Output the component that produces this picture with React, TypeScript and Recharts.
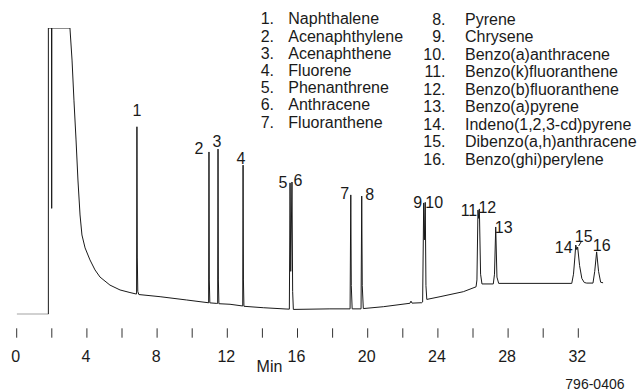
import React from "react";
import { ComposedChart, Line, Scatter, XAxis, YAxis } from "recharts";

// retention time (min) and detector response (% of full scale)
const traceTime = [
  0, 1.804, 1.804, 1.983, 1.993, 2.003, 3.034, 3.153, 3.262, 3.381, 3.49, 3.609, 3.718, 3.896, 4.174, 4.462, 4.749, 5.314, 5.889, 6.454, 6.801,
  6.831, 6.851, 6.871, 6.9, 6.96, 8.17, 9.686, 10.906,
  10.936, 10.956, 10.975, 11.005, 11.402, 11.451, 11.471, 11.491, 11.521, 12.155,
  12.879, 12.899, 12.919, 12.948, 14.049, 15.348,
  15.536, 15.576, 15.615, 15.685, 15.724, 15.764, 17.846,
  18.996, 19.036, 19.065, 19.115, 19.621, 19.66, 19.69, 19.75,
  20.89, 22.407, 22.466, 22.526, 23.081,
  23.13, 23.19, 23.23, 23.279, 23.319, 23.368, 24.122, 25.451, 26.174,
  26.224, 26.283, 26.323, 26.363, 26.432, 26.511, 27.156,
  27.225, 27.295, 27.364, 27.463, 31.627,
  31.726, 31.806, 31.855, 31.915, 31.964, 32.073, 32.202, 32.341, 32.48, 32.837,
  32.936, 33.045, 33.154, 33.273, 33.412,
];
const traceSignal = [
  0, 0, 100, 100, 37, 100, 100, 88.8, 74.8, 60.9, 46.9, 34.7, 27.7, 23.2, 19.0, 15.5, 13.0, 10.2, 8.5, 7.6, 7.1,
  7.1, 65.5, 20, 8, 6.9, 6.15, 5.0, 4.05,
  4.0, 56.7, 12, 4.0, 3.8, 3.8, 57.7, 12, 3.7, 3.5,
  2.9, 52.1, 12, 2.8, 2.3, 1.85,
  1.8, 45.9, 15, 46.2, 8, 1.7, 1.9,
  1.9, 41.7, 10, 1.9, 1.9, 41.3, 10, 2.0,
  2.65, 3.85, 4.6, 3.9, 4.05,
  4.3, 38.9, 26, 39.1, 10, 5.2, 6.15, 7.9, 9.6,
  12, 36.4, 33.5, 36.8, 14, 10.6, 10.6,
  14, 30.5, 13, 10.8, 10.8,
  14, 20, 24.2, 22.6, 23.5, 17, 12.5, 11.1, 10.9, 10.9,
  15, 21.8, 15, 11.2, 11.0,
];

// PAH peaks
const peakNo = [1, 2, 3, 4, 5, 6, 7, 8, 9, 10, 11, 12, 13, 14, 15, 16];
const peakTime = [6.851, 10.956, 11.471, 12.899, 15.576, 15.685, 19.036, 19.66, 23.19, 23.279, 26.283, 26.363, 27.295, 31.855, 31.964, 33.045];
const peakHeight = [65.5, 56.7, 57.7, 52.1, 45.9, 46.2, 41.7, 41.3, 38.9, 39.1, 36.4, 36.8, 30.5, 24.2, 23.5, 21.8];
const compounds = [
  "Naphthalene", "Acenaphthylene", "Acenaphthene", "Fluorene", "Phenanthrene", "Anthracene", "Fluoranthene",
  "Pyrene", "Chrysene", "Benzo(a)anthracene", "Benzo(k)fluoranthene", "Benzo(b)fluoranthene", "Benzo(a)pyrene",
  "Indeno(1,2,3-cd)pyrene", "Dibenzo(a,h)anthracene", "Benzo(ghi)perylene",
];

const timeTicks = [0, 2, 4, 6, 8, 10, 12, 14, 16, 18, 20, 22, 24, 26, 28, 30, 32];

// label placement relative to the peak apex (px)
const labelDx = [0, -10, -1, -2, -7, 6, -6, 8, -6, 9, -9, 8, 8, -12, 6, 5];
const labelDy = [-17, -4, -8, -7, -1, -2, -2, -2, -1, 0, 0, -2, 0, 2, -11, -7];

const FONT = "'Liberation Sans', Arial, sans-serif";
const INK = "#1a1a1a";

const trace = traceTime.map((t, i) => ({ t, v: traceSignal[i] }));
const peaks = peakNo.map((n, i) => ({ t: peakTime[i], v: peakHeight[i], n, i }));

function TimeTick({ x, y, payload }: any) {
  const showLabel = payload.value % 4 === 0;
  return (
    <g>
      <line x1={x} x2={x} y1={y + 14} y2={y + 23.4} stroke="#333" strokeWidth={1} />
      {showLabel && (
        <text x={x - 1} y={y + 47.4} textAnchor="middle" fontSize={16} fontFamily={FONT} fill={INK}>
          {payload.value}
        </text>
      )}
    </g>
  );
}

function PeakLabel({ cx, cy, payload }: any) {
  const i = payload.i;
  const lx = cx + labelDx[i];
  const ly = cy + labelDy[i];
  return (
    <g>
      {payload.n === 15 && (
        <line x1={cx + 1} y1={cy - 1} x2={lx - 2} y2={ly + 5} stroke={INK} strokeWidth={1} />
      )}
      <text x={lx} y={ly + 5.8} textAnchor="middle" fontSize={16} fontFamily={FONT} fill={INK}>
        {payload.n}
      </text>
    </g>
  );
}

export default function App() {
  return (
    <div style={{ position: "absolute", left: 0, top: 0, width: 638, height: 391, background: "#fff" }}>
      <ComposedChart width={638} height={391} margin={{ top: 28, right: 7.05, left: 16.7, bottom: 0 }}>
        <XAxis
          type="number"
          dataKey="t"
          domain={[0, 35]}
          ticks={timeTicks}
          axisLine={false}
          tickLine={false}
          tickSize={0}
          tickMargin={0}
          height={76.7}
          tick={<TimeTick />}
          allowDataOverflow
        />
        <YAxis type="number" domain={[0, 100]} hide allowDataOverflow />
        <Line
          data={trace}
          dataKey="v"
          type="linear"
          stroke={INK}
          strokeWidth={1}
          dot={false}
          isAnimationActive={false}
        />
        <Scatter data={peaks} dataKey="v" shape={<PeakLabel />} isAnimationActive={false} />
      </ComposedChart>
      <svg
        width={638}
        height={391}
        style={{ position: "absolute", left: 0, top: 0, pointerEvents: "none" }}
        fontFamily={FONT}
        fontSize={16}
        fill={INK}
      >
        {compounds.map((name, i) => {
          const left = i < 7;
          const row = left ? i : i - 7;
          const y = left ? 24.4 + row * 17.2 : 24.8 + row * 17.5;
          return (
            <g key={name}>
              <text x={left ? 274 : 445.5} y={y} textAnchor="end">{`${i + 1}.`}</text>
              <text x={left ? 288.3 : 465} y={y}>{name}</text>
            </g>
          );
        })}
        <text x={269.5} y={372.4} textAnchor="middle">Min</text>
        <text x={624.5} y={388.5} textAnchor="end" fontSize={14}>796-0406</text>
      </svg>
    </div>
  );
}
